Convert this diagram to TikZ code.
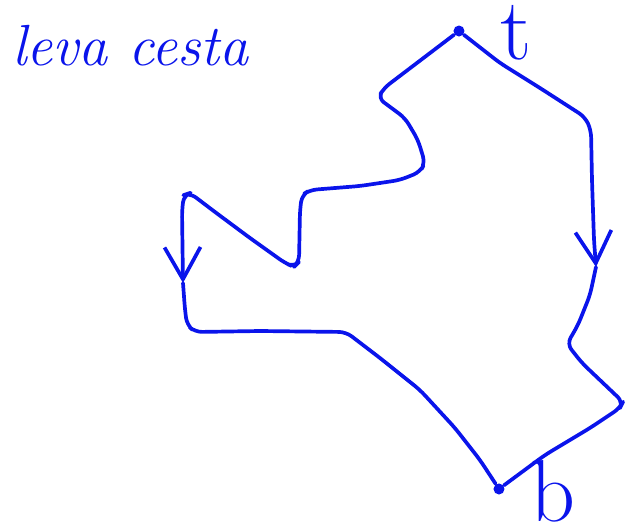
\documentclass[tikz,border=0pt]{standalone}
\usetikzlibrary{arrows.meta}
\definecolor{pencol}{RGB}{10, 20, 235}
\tikzset{
	pen/.style={draw=pencol, line width=1.05pt, line cap=round, line join=round, rounded corners=2pt},
	downarr/.style={-{Straight Barb[length=3.2mm, width=3.6mm, line width=1.05pt]}},
	enddot/.style={circle, fill=pencol, inner sep=0pt, minimum size=0.11cm},
	hand/.style={text=pencol, inner sep=1pt}
}
\begin{document}
\begin{tikzpicture}[x=0.01cm, y=-0.01cm]
	\useasboundingbox (0,0) rectangle (626,527);
	\node[hand, anchor=west] at (8,46) (title) {\fontsize{16.5}{20}\selectfont\itshape leva cesta};
	\node[enddot] at (459,31) (top) {};
	\node[enddot] at (499,489) (bot) {};
	\node[hand] at (516,33) (tlab) {\fontsize{25}{30}\selectfont t};
	\node[hand] at (553,491) (blab) {\fontsize{25}{30}\selectfont b};
	\coordinate (la) at (183,283);
	\coordinate (ra) at (596,267);
	\draw[pen, downarr] (top) -- (384,88) -- (378,98) -- (405,118) -- (418,140) -- (425,163) -- (420,172) -- (400,180) -- (360,186) -- (310,190) -- (302,195) -- (300,210) -- (299,262) -- (294,267) -- (285,263) -- (250,238) -- (215,212) -- (190,193) -- (184,195) -- (182,210) -- (la);
	\draw[pen] (la) -- (185,310) -- (187,325) -- (195,332) -- (260,331) -- (346,332) -- (380,358) -- (420,390) -- (455,428) -- (480,460) -- (bot);
	\draw[pen, downarr] (top) -- (500,63) -- (540,88) -- (585,117) -- (591,130) -- (592,180) -- (594,240) -- (ra);
	\draw[pen] (ra) -- (590,295) -- (578,325) -- (567,344) -- (582,363) -- (623,402) -- (620,408) -- (590,428) -- (545,455) -- (bot);
\end{tikzpicture}
\end{document}
